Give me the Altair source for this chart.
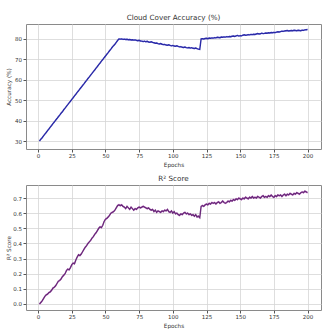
import altair as alt
import pandas as pd

epochs = list(range(1, 201))

accuracy = [
    30.0, 30.9, 31.6, 32.5, 33.4, 34.2, 35.1, 35.9, 36.8, 37.6,
    38.5, 39.3, 40.2, 41.0, 41.9, 42.7, 43.6, 44.3, 45.3, 46.1,
    47.0, 47.8, 48.7, 49.5, 50.4, 51.2, 52.1, 52.9, 53.8, 54.6,
    55.5, 56.3, 57.2, 58.0, 58.9, 59.7, 60.6, 61.4, 62.3, 63.1,
    64.0, 64.8, 65.7, 66.5, 67.4, 68.2, 69.1, 69.9, 70.8, 71.6,
    72.5, 73.3, 74.2, 75.0, 75.9, 76.7, 77.4, 78.3, 79.2, 80.0,
    79.9, 80.0, 79.8, 79.9, 79.7, 79.8, 79.6, 79.7, 79.5, 79.6,
    79.4, 79.5, 79.3, 79.1, 79.3, 79.0, 78.9, 78.7, 78.9, 78.6,
    78.8, 78.5, 78.4, 78.6, 78.3, 78.1, 77.9, 78.0, 77.7, 77.5,
    77.7, 77.4, 77.2, 77.3, 77.0, 76.9, 77.1, 76.8, 76.6, 76.8,
    76.5, 76.4, 76.6, 76.3, 76.1, 76.2, 75.9, 75.8, 76.0, 75.7,
    75.6, 75.8, 75.5, 75.7, 75.4, 75.3, 75.5, 75.2, 75.0, 74.9,
    80.0, 80.1, 80.0, 80.2, 80.3, 80.1, 80.4, 80.3, 80.5, 80.4,
    80.6, 80.5, 80.8, 80.7, 80.6, 80.9, 80.8, 81.0, 80.9, 81.1,
    81.0, 81.2, 81.1, 81.3, 81.4, 81.2, 81.5, 81.7, 81.4, 81.6,
    81.5, 81.8, 82.0, 81.8, 81.9, 82.1, 82.0, 82.2, 82.1, 82.3,
    82.2, 82.4, 82.6, 82.4, 82.5, 82.8, 82.6, 82.7, 82.9, 82.8,
    83.0, 82.9, 83.1, 83.0, 83.2, 83.1, 83.3, 83.5, 83.4, 83.6,
    83.8, 83.7, 83.9, 84.0, 84.1, 83.9, 84.0, 84.1, 84.0, 84.2,
    84.1, 84.0, 84.2, 84.1, 84.0, 84.3, 84.2, 84.4, 84.5, 84.6,
]

r2 = [
    0.000, 0.010, 0.020, 0.035, 0.050, 0.060, 0.065, 0.075, 0.080, 0.090,
    0.105, 0.110, 0.120, 0.135, 0.150, 0.155, 0.165, 0.180, 0.190, 0.200,
    0.220, 0.230, 0.225, 0.240, 0.260, 0.270, 0.265, 0.290, 0.310, 0.325,
    0.320, 0.330, 0.345, 0.360, 0.375, 0.385, 0.400, 0.410, 0.420, 0.435,
    0.445, 0.460, 0.470, 0.485, 0.500, 0.510, 0.505, 0.520, 0.545, 0.560,
    0.565, 0.575, 0.585, 0.600, 0.605, 0.610, 0.620, 0.635, 0.650, 0.655,
    0.650, 0.655, 0.645, 0.640, 0.630, 0.645, 0.635, 0.625, 0.640, 0.630,
    0.620, 0.630, 0.625, 0.635, 0.640, 0.635, 0.640, 0.645, 0.640, 0.635,
    0.630, 0.635, 0.625, 0.620, 0.625, 0.610, 0.620, 0.605, 0.615, 0.610,
    0.605, 0.615, 0.610, 0.620, 0.615, 0.625, 0.610, 0.605, 0.615, 0.600,
    0.610, 0.595, 0.600, 0.590, 0.585, 0.595, 0.590, 0.600, 0.605, 0.595,
    0.600, 0.590, 0.595, 0.585, 0.590, 0.580, 0.590, 0.575, 0.580, 0.570,
    0.645, 0.650, 0.645, 0.655, 0.660, 0.655, 0.665, 0.660, 0.670, 0.665,
    0.670, 0.660, 0.670, 0.675, 0.665, 0.670, 0.680, 0.670, 0.665, 0.670,
    0.680, 0.675, 0.685, 0.680, 0.690, 0.685, 0.695, 0.690, 0.700, 0.695,
    0.690, 0.700, 0.695, 0.705, 0.700, 0.695, 0.705, 0.700, 0.710, 0.700,
    0.705, 0.700, 0.710, 0.705, 0.700, 0.710, 0.715, 0.705, 0.710, 0.705,
    0.715, 0.710, 0.720, 0.710, 0.705, 0.715, 0.710, 0.720, 0.715, 0.720,
    0.710, 0.720, 0.725, 0.715, 0.725, 0.720, 0.730, 0.725, 0.720, 0.730,
    0.725, 0.735, 0.730, 0.725, 0.735, 0.740, 0.735, 0.745, 0.740, 0.735,
]

x_ticks = [0, 25, 50, 75, 100, 125, 150, 175, 200]
acc_ticks = [30, 40, 50, 60, 70, 80]
r2_ticks = [0.0, 0.1, 0.2, 0.3, 0.4, 0.5, 0.6, 0.7]

df = pd.DataFrame({"epoch": epochs, "acc": accuracy, "r2": r2})

FONT = "DejaVu Sans"
W, H = 295, 125

x_scale = alt.Scale(domain=[-9, 210], nice=False, zero=False)
x_axis = alt.Axis(values=x_ticks, title="Epochs", format="d", labelOverlap=False)


def panel(field, title, ytitle, domain, ticks, fmt, line_color, band_color, band):
    base = alt.Chart(df)
    y_scale = alt.Scale(domain=domain, nice=False, zero=False)
    y_axis = alt.Axis(values=ticks, title=ytitle, format=fmt, labelOverlap=False,
                      titleX=-18, titleBaseline="middle", titleAnchor="middle")
    area = base.transform_calculate(
        lo=f"datum.{field} - {band}", hi=f"datum.{field} + {band}"
    ).mark_area(color=band_color, opacity=0.35).encode(
        x=alt.X("epoch:Q", scale=x_scale, axis=x_axis),
        y=alt.Y("lo:Q", scale=y_scale, axis=y_axis),
        y2="hi:Q",
    )
    line = base.mark_line(color=line_color, strokeWidth=1.4).encode(
        x=alt.X("epoch:Q", scale=x_scale, axis=x_axis),
        y=alt.Y(f"{field}:Q", scale=y_scale, axis=y_axis),
    )
    return alt.layer(area, line).properties(
        width=W, height=H,
        title=alt.TitleParams(title, fontSize=7.2, font=FONT, color="#333333",
                              fontWeight="normal", offset=3),
    )


top = panel("acc", "Cloud Cover Accuracy (%)", "Accuracy (%)", [26.1, 87.3],
            acc_ticks, "d", "#2a2aa6", "#5a5aff", 0.4)
bottom = panel("r2", "R² Score", "R² Score", [-0.04, 0.786],
               r2_ticks, ".1f", "#6a2a7a", "#e050e0", 0.008)

chart = alt.vconcat(top, bottom, spacing=36, bounds="flush").properties(
    padding={"left": 4, "top": 13, "right": 0, "bottom": 0},
).configure_view(
    stroke="#8a8a8a", strokeWidth=1
).configure_axis(
    grid=True, gridColor="#d6d6d6", gridWidth=0.8,
    domain=False, tickColor="#555555", tickSize=3,
    labelFont=FONT, labelFontSize=5.5, labelColor="#333333",
    titleFont=FONT, titleFontSize=5.7, titleColor="#333333",
    titleFontWeight="normal", labelPadding=1.5,
).configure_axisX(titlePadding=2)

chart.save("out.html", embed_options={"renderer": "svg", "actions": False})
